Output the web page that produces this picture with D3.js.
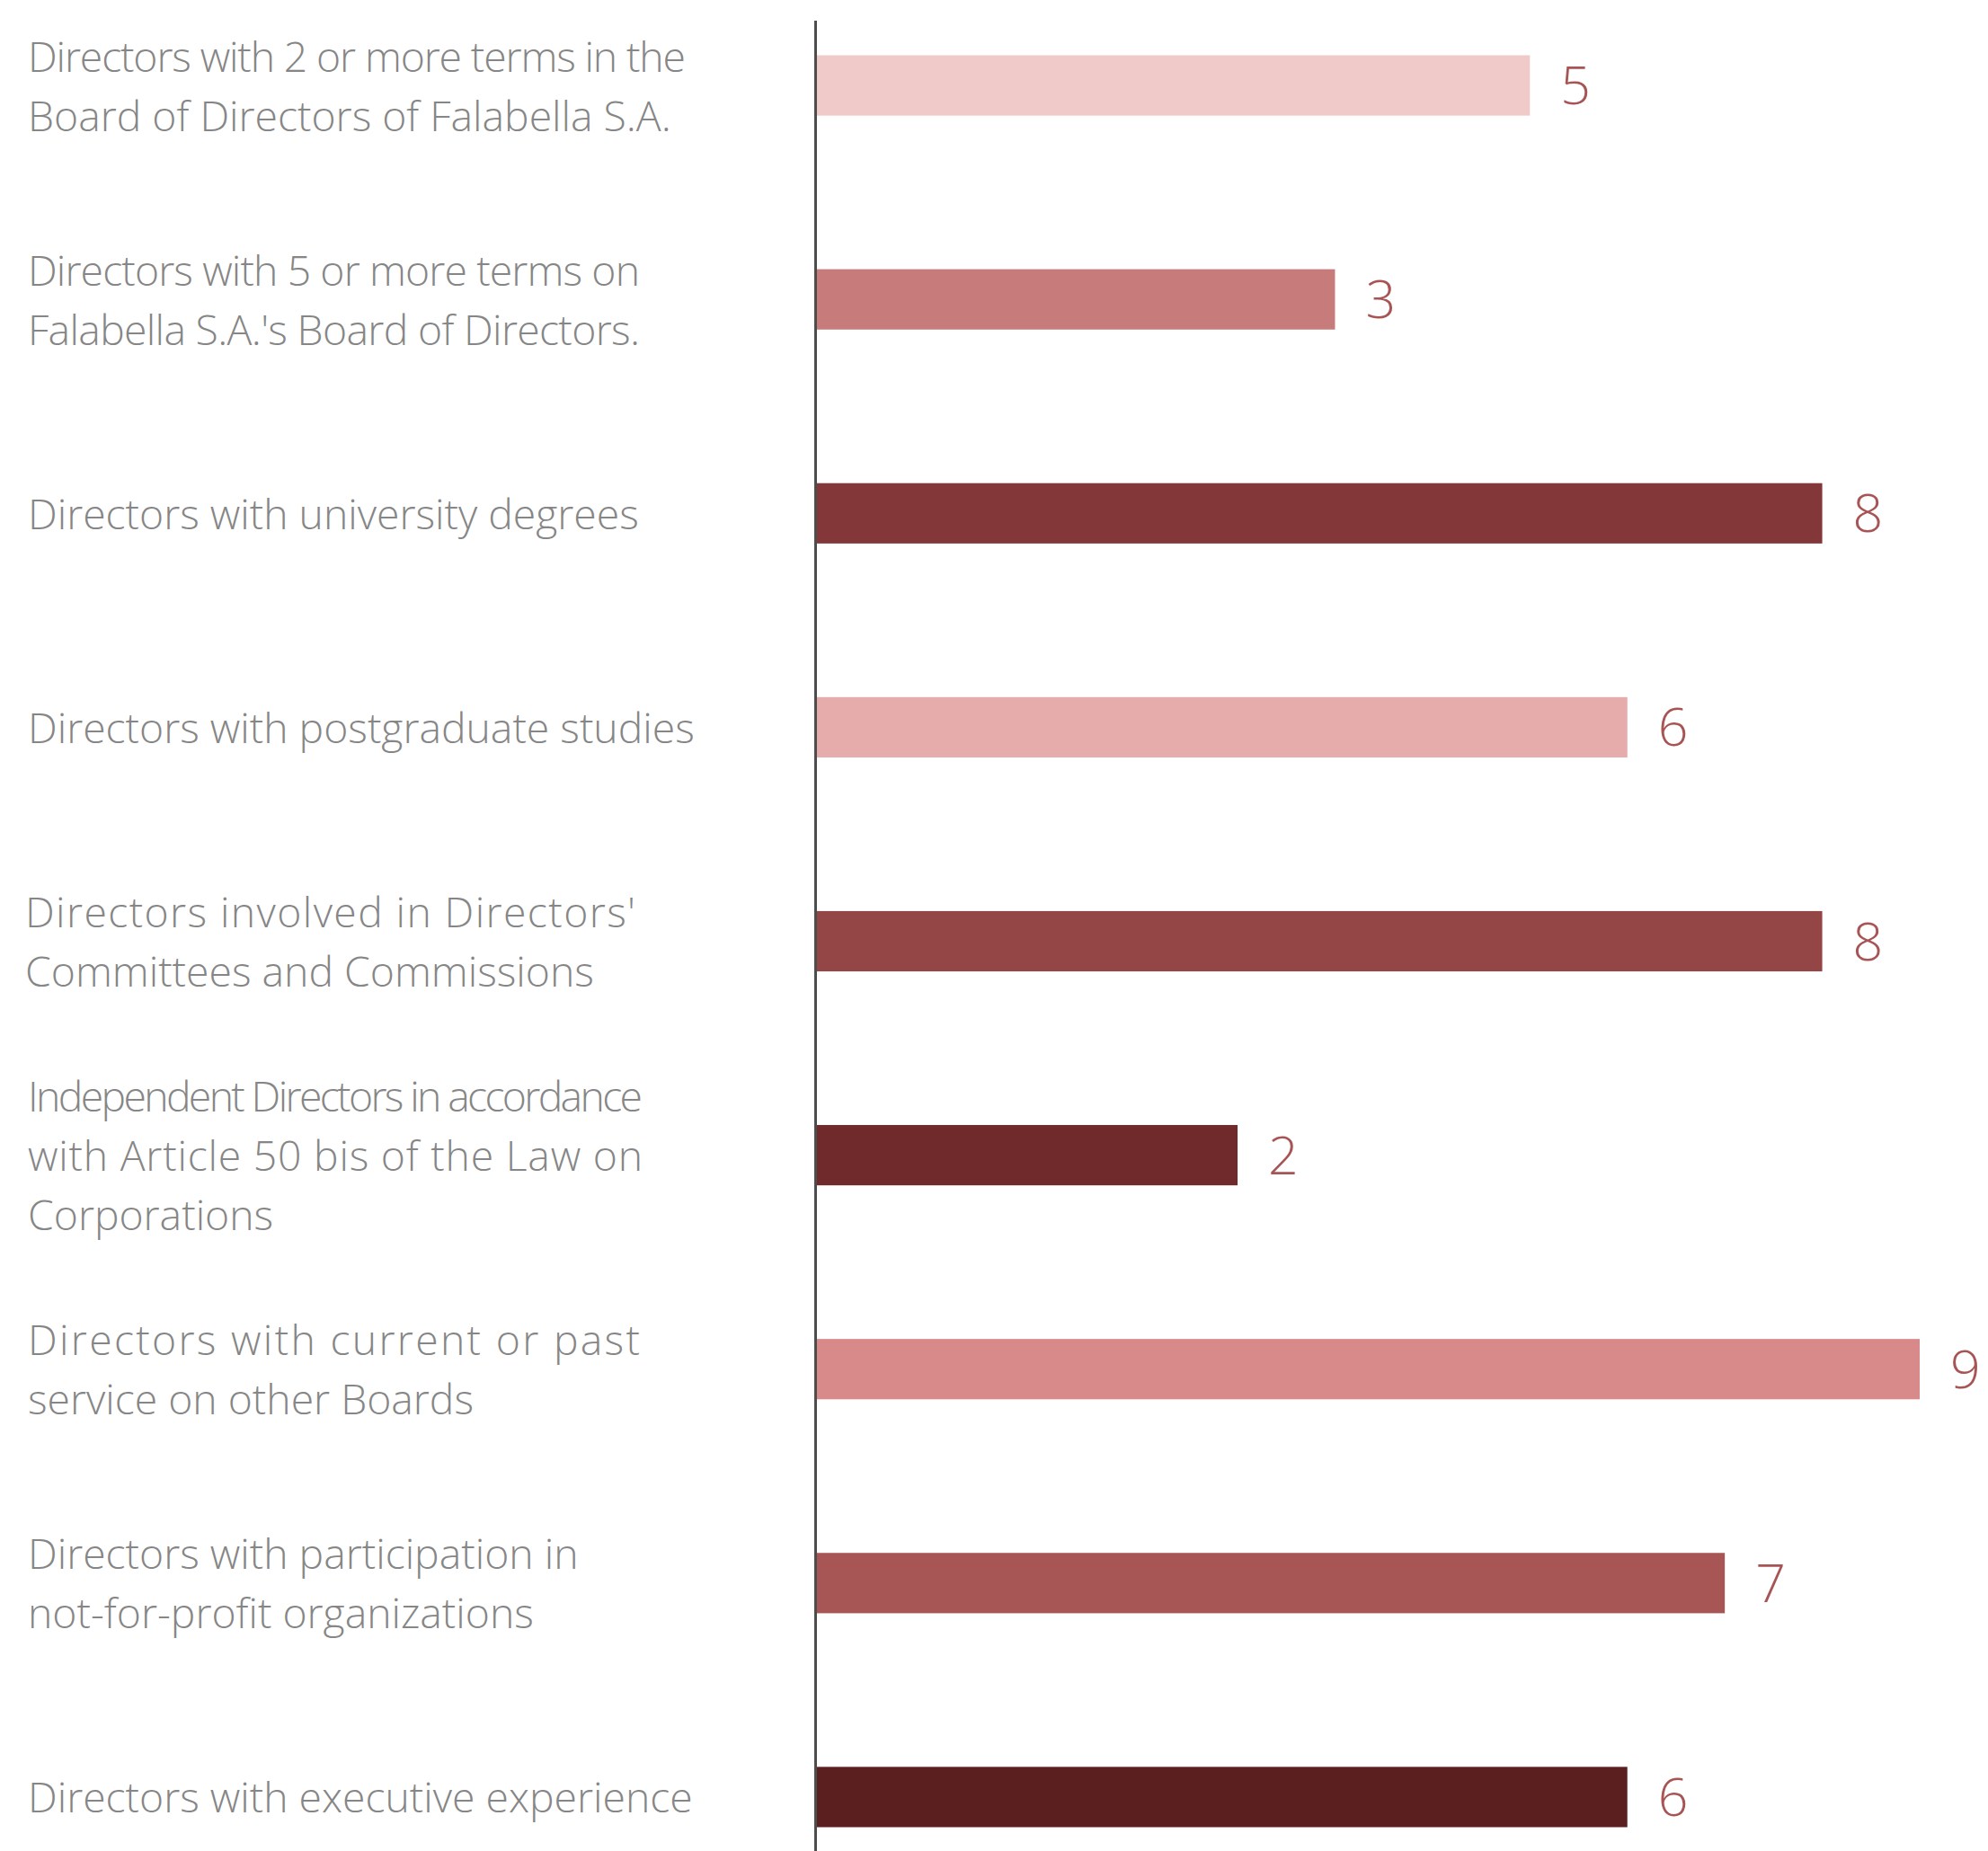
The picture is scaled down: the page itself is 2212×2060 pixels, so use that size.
<!DOCTYPE html>
<html>
<head>
<meta charset="utf-8">
<script src="https://cdn.jsdelivr.net/npm/d3@7"></script>
<style>
    html, body { margin: 0; padding: 0; background: #fff; }
    svg { display: block; }
</style>
</head>
<body>
<svg id="chart"></svg>
<script>
// Dados do gráfico

const labels = [
    ['Directors with 2 or more terms in the', 'Board of Directors of Falabella S.A.'],
    ['Directors with 5 or more terms on', 'Falabella S.A.\'s Board of Directors.'],
    ['Directors with university degrees'],
    ['Directors with postgraduate studies'],
    ['Directors involved in Directors\'', 'Committees and Commissions'],
    ['Independent Directors in accordance', 'with Article 50 bis of the Law on', 'Corporations'],
    ['Directors with current or past', 'service on other Boards'],
    ['Directors with participation in', 'not-for-profit organizations'],
    ['Directors with executive experience']
];

const values = [5, 3, 8, 6, 8, 2, 9, 7, 6];

const colors = ['#f0c9c9', '#c87b7b', '#843738', '#e6abab', '#944647',
    '#702a2b', '#d88a8a', '#a75655', '#5c1f20'];

// Layout

const width = 2212;
const height = 2060;
const axisX = 907.5;
const labelX = 31;
const lineHeight = 66;

// Linhas justificadas no original (borda direita do texto)
const justifiedEnd = {
    '0-0': 763,
    '1-0': 712,
    '1-1': 712,
    '4-0': 710,
    '5-0': 715,
    '5-1': 715,
    '6-0': 712
};

const svg = d3.select('#chart')
    .attr('width', width)
    .attr('height', height);

const x = d3.scaleLinear()
    .domain([-2.33, 9])
    .range([axisX, 2136]);

const y = d3.scaleBand()
    .domain(d3.range(values.length))
    .range([61.5, 2033.5])
    .paddingInner(0.718)
    .paddingOuter(0);

// Barras

svg.append('g')
    .selectAll('rect')
    .data(values)
    .join('rect')
    .attr('x', axisX)
    .attr('y', (d, i) => y(i))
    .attr('width', (d) => x(d) - axisX)
    .attr('height', y.bandwidth())
    .attr('fill', (d, i) => colors[i]);

// Eixo vertical

svg.append('line')
    .attr('x1', axisX).attr('x2', axisX)
    .attr('y1', 23).attr('y2', height)
    .attr('stroke', '#4d4d4d')
    .attr('stroke-width', 3);

// Valores

svg.append('g')
    .selectAll('text')
    .data(values)
    .join('text')
    .attr('x', (d) => x(d) + 34)
    .attr('y', (d, i) => y(i) + y.bandwidth() / 2 + 21)
    .text((d) => d)
    .style('fill', '#a85454')
    .style('font-family', '"Open Sans"')
    .style('font-weight', 300)
    .style('font-size', '59px');

// Rótulos das categorias

const labelGroup = svg.append('g')
    .style('fill', '#868686')
    .style('font-family', '"Open Sans"')
    .style('font-weight', 300)
    .style('font-size', '46.3px');

labels.forEach((lines, i) => {
    const cy = y(i) + y.bandwidth() / 2;
    const text = labelGroup.append('text');
    lines.forEach((line, j) => {
        const tspan = text.append('tspan')
            .attr('x', i === 4 ? labelX - 3 : labelX)
            .attr('y', cy + 17.5 + (j - (lines.length - 1) / 2) * lineHeight)
            .text(line);
        const end = justifiedEnd[`${ i }-${ j }`];
        if (end) {
            tspan.attr('textLength', end - labelX)
                .attr('lengthAdjust', 'spacing');
        }
    });
});
</script>
</body>
</html>
